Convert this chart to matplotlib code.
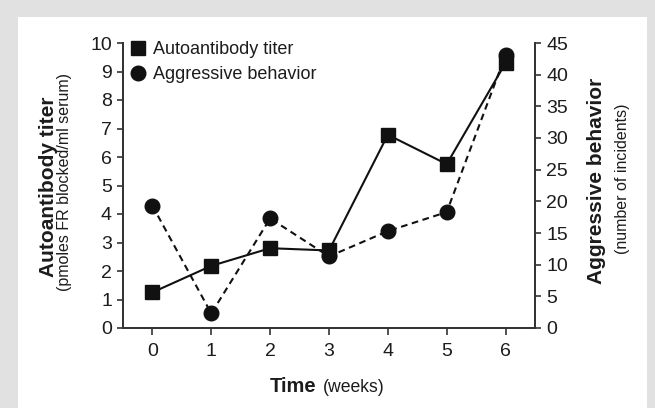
import matplotlib
matplotlib.use("Agg")
import matplotlib.pyplot as plt
from matplotlib.patches import Rectangle
from matplotlib.lines import Line2D

weeks = [0, 1, 2, 3, 4, 5, 6]
titer = [1.25, 2.18, 2.8, 2.72, 6.78, 5.75, 9.3]
aggression = [19.3, 2.3, 17.3, 11.3, 15.3, 18.3, 43.1]
left_ticks = list(range(0, 11))
right_ticks = list(range(0, 50, 5))

ink = "#1c1c1c"
plt.rcParams["font.family"] = ["Liberation Sans", "DejaVu Sans"]
plt.rcParams["text.color"] = ink
plt.rcParams["axes.edgecolor"] = "#333333"
plt.rcParams["xtick.color"] = "#333333"
plt.rcParams["ytick.color"] = "#333333"
plt.rcParams["xtick.labelcolor"] = ink
plt.rcParams["ytick.labelcolor"] = ink

fig = plt.figure(figsize=(6.55, 4.08), dpi=100)
fig.patch.set_facecolor("#e1e1e1")
panel = Rectangle((18 / 655, 0), 629 / 655, 391 / 408,
                  transform=fig.transFigure, facecolor="white",
                  edgecolor="none", zorder=-10)
fig.patches.append(panel)

ax = fig.add_axes([123 / 655, 80 / 408, 412 / 655, 285 / 408])
ax2 = ax.twinx()

ax.plot(weeks, titer, color="#111111", lw=1.5, marker="s", ms=9.5,
        mfc="#111111", mec="#111111", zorder=3)
ax2.plot(weeks, aggression, color="#111111", lw=1.5, ls=(0, (3.2, 2.2)),
         marker="o", ms=10.5, mfc="#111111", mec="#111111", zorder=3)

ax.set_xlim(-0.5, 6.5)
ax.set_ylim(0, 10)
ax2.set_ylim(0, 45)
ax.set_xticks(weeks)
ax.set_yticks(left_ticks)
ax2.set_yticks(right_ticks)

for a in (ax, ax2):
    a.spines["top"].set_visible(False)
    for s in a.spines.values():
        s.set_linewidth(1.3)
    a.tick_params(direction="out", length=4, width=1.2, labelsize=14, pad=4)
ax.tick_params(axis="x", length=5, pad=6)
ax.patch.set_visible(False)
ax2.patch.set_visible(False)

handles = [Line2D([], [], ls="none", marker="s", ms=9.5, color="#111111"),
           Line2D([], [], ls="none", marker="o", ms=10.5, color="#111111")]
ax.legend(handles, ["Autoantibody titer", "Aggressive behavior"],
          loc="upper left", bbox_to_anchor=(-0.016, 1.05), frameon=False,
          fontsize=13, handlelength=1.0, handletextpad=0.35,
          labelspacing=0.42, borderaxespad=0.3)

fig.text(48.5 / 655, (408 - 187) / 408, "Autoantibody titer", rotation=90,
         ha="center", va="center", fontsize=15, fontweight="bold")
fig.text(64 / 655, (408 - 182) / 408, "(pmoles FR blocked/ml serum)",
         rotation=90, ha="center", va="center", fontsize=11.5)
fig.text(597 / 655, (408 - 181) / 408, "Aggressive behavior", rotation=90,
         ha="center", va="center", fontsize=15, fontweight="bold")
fig.text(623 / 655, (408 - 179) / 408, "(number of incidents)", rotation=90,
         ha="center", va="center", fontsize=11.5)
fig.text(270 / 655, 16 / 408, "Time", ha="left", va="baseline",
         fontsize=14.5, fontweight="bold")
fig.text(323 / 655, 16 / 408, "(weeks)", ha="left", va="baseline",
         fontsize=12.7)

fig.savefig("out.png", dpi=100, facecolor=fig.get_facecolor())
